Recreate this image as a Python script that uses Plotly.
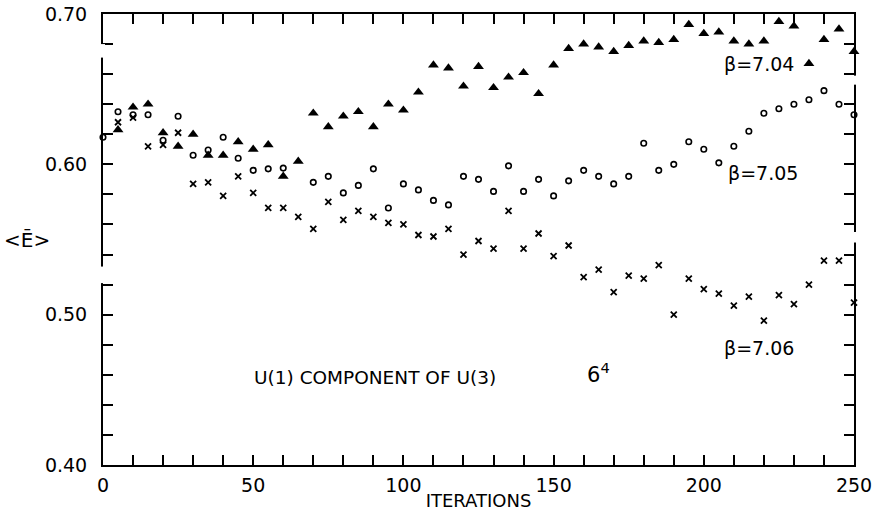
import plotly.graph_objects as go

# ---- data ----
iters_704 = list(range(5, 251, 5))
E_704 = [0.623, 0.638, 0.640, 0.621, 0.612, 0.620, 0.606, 0.606, 0.615, 0.610,
         0.613, 0.592, 0.602, 0.634, 0.625, 0.632, 0.635, 0.625, 0.640, 0.636,
         0.648, 0.666, 0.664, 0.652, 0.665, 0.651, 0.658, 0.661, 0.647, 0.666,
         0.677, 0.680, 0.678, 0.675, 0.679, 0.682, 0.681, 0.683, 0.693, 0.687,
         0.688, 0.682, 0.680, 0.682, 0.695, 0.692, 0.667, 0.683, 0.690, 0.675]

iters_705 = [0, 5, 10, 15, 20, 25, 30, 35, 40, 45, 50, 55, 60, 70, 75, 80, 85, 90,
             95, 100, 105, 110, 115, 120, 125, 130, 135, 140, 145, 150, 155, 160,
             165, 170, 175, 180, 185, 190, 195, 200, 205, 210, 215, 220, 225, 230,
             235, 240, 245, 250]
E_705 = [0.618, 0.635, 0.633, 0.633, 0.616, 0.632, 0.606, 0.6095, 0.618, 0.604,
         0.596, 0.597, 0.5975, 0.588, 0.592, 0.581, 0.586, 0.597, 0.571, 0.587,
         0.583, 0.576, 0.573, 0.592, 0.590, 0.582, 0.599, 0.582, 0.590, 0.579,
         0.589, 0.596, 0.592, 0.587, 0.592, 0.614, 0.596, 0.600, 0.615, 0.610,
         0.601, 0.612, 0.622, 0.634, 0.637, 0.640, 0.643, 0.649, 0.640, 0.633]

iters_706 = list(range(5, 251, 5))
E_706 = [0.628, 0.631, 0.612, 0.613, 0.621, 0.587, 0.588, 0.579, 0.592, 0.581,
         0.571, 0.571, 0.565, 0.557, 0.575, 0.563, 0.569, 0.565, 0.561, 0.560,
         0.553, 0.552, 0.557, 0.540, 0.549, 0.544, 0.569, 0.544, 0.554, 0.539,
         0.546, 0.525, 0.530, 0.515, 0.526, 0.524, 0.533, 0.500, 0.524, 0.517,
         0.514, 0.506, 0.512, 0.496, 0.513, 0.507, 0.520, 0.536, 0.536, 0.508]

x_ticks = list(range(0, 251, 10))
x_labels = [str(v) if v % 50 == 0 else "" for v in x_ticks]
y_ticks = [round(0.40 + 0.02 * i, 2) for i in range(16)]
y_labels = {0.40: "0.40", 0.50: "0.50", 0.60: "0.60", 0.70: "0.70"}
y_text = [y_labels.get(v, "") for v in y_ticks]

FONT = "DejaVu Sans"

fig = go.Figure()
fig.add_trace(go.Scatter(x=iters_704, y=E_704, mode="markers", name="β=7.04",
                         marker=dict(symbol="triangle-up", size=9.5, color="black"),
                         cliponaxis=False))
fig.add_trace(go.Scatter(x=iters_705, y=E_705, mode="markers", name="β=7.05",
                         marker=dict(symbol="circle-open", size=5.5, color="black",
                                     line=dict(width=1.6, color="black")),
                         cliponaxis=False))
fig.add_trace(go.Scatter(x=iters_706, y=E_706, mode="markers", name="β=7.06",
                         marker=dict(symbol="x-thin-open", size=6, color="black",
                                     line=dict(width=1.8, color="black")),
                         cliponaxis=False))

axis_common = dict(showline=True, linecolor="black", linewidth=2, mirror="ticks",
                   ticks="inside", ticklen=10, tickwidth=1.5, tickcolor="black",
                   showgrid=False, zeroline=False, automargin=False,
                   tickfont=dict(family=FONT, size=19, color="black"))

fig.update_xaxes(range=[0, 250], tickmode="array", tickvals=x_ticks, ticktext=x_labels,
                 title=dict(text="ITERATIONS", font=dict(family=FONT, size=18, color="black"),
                            standoff=0),
                 ticklabelstandoff=2, **axis_common)
fig.update_yaxes(range=[0.40, 0.70], tickmode="array", tickvals=y_ticks, ticktext=y_text,
                 ticklabelstandoff=10, **axis_common)

ann_font = dict(family=FONT, size=19, color="black")
fig.add_annotation(x=206, y=0.667, text="β=7.04", showarrow=False, xanchor="left",
                   yanchor="middle", font=ann_font)
fig.add_annotation(x=207.5, y=0.594, text="β=7.05", showarrow=False, xanchor="left",
                   yanchor="middle", font=ann_font)
fig.add_annotation(x=206, y=0.478, text="β=7.06", showarrow=False, xanchor="left",
                   yanchor="middle", font=ann_font)
fig.add_annotation(x=49.5, y=0.458, text="U(1) COMPONENT OF U(3)", showarrow=False,
                   xanchor="left", yanchor="middle", font=dict(family=FONT, size=18.5, color="black"))
fig.add_annotation(x=160.5, y=0.461, text="6<sup>4</sup>", showarrow=False,
                   xanchor="left", yanchor="middle", font=dict(family=FONT, size=21, color="black"))
fig.add_annotation(xref="paper", yref="paper", x=-0.135, y=0.5, text="<Ē>",
                   showarrow=False, xanchor="left", yanchor="middle",
                   font=dict(family=FONT, size=20, color="black"))

# small breaks in the hand-drawn frame
gaps_left = [(0.680, 0.671), (0.532, 0.521)]
gaps_right = [(0.659, 0.653), (0.555, 0.548)]
for y0, y1 in gaps_left:
    fig.add_shape(type="line", xref="paper", yref="y", x0=0, x1=0, y0=y0, y1=y1,
                  line=dict(color="white", width=4), layer="above")
for y0, y1 in gaps_right:
    fig.add_shape(type="line", xref="paper", yref="y", x0=1, x1=1, y0=y0, y1=y1,
                  line=dict(color="white", width=4), layer="above")

fig.update_layout(width=877, height=513, margin=dict(l=103, r=23, t=14, b=48),
                  plot_bgcolor="white", paper_bgcolor="white", showlegend=False,
                  font=dict(family=FONT, color="black"))

fig.write_html("out.html")
